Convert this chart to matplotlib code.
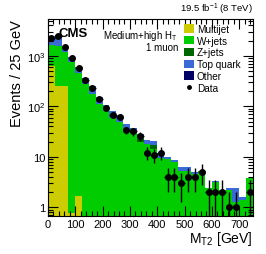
import matplotlib
matplotlib.use("Agg")
import matplotlib.pyplot as plt
import numpy as np
from matplotlib.patches import Patch
from matplotlib.lines import Line2D
from matplotlib.ticker import MultipleLocator, LogLocator, FixedLocator, FixedFormatter, NullFormatter

plt.rcParams['font.family'] = ['Liberation Sans', 'DejaVu Sans']
plt.rcParams['mathtext.fontset'] = 'custom'
plt.rcParams['mathtext.rm'] = 'Liberation Sans'
plt.rcParams['mathtext.it'] = 'Liberation Sans'

# M_T2 bins, 25 GeV wide
bin_edges = np.arange(0, 775, 25)

multijet = [640, 250, 250, 0.77, 1.65, 0, 0, 0, 0, 0, 0, 0, 0, 0, 0,
            0, 0, 0, 0, 0, 0, 0, 0, 0, 0, 0, 0, 0, 0, 0]
wjets = [1010, 1350, 920, 739, 453, 278, 178, 111, 80, 60, 48, 35, 30, 19.6, 18,
         14.5, 9.3, 9.0, 8.0, 5.2, 5.2, 4.6, 5.2, 2.4, 3.2, 2.2, 2.2, 1.3, 1.41, 3.8]
zjets = [0, 0, 0, 0, 0, 0, 0, 0, 0, 0, 0, 0, 0, 2.8, 0,
         3.0, 0, 0, 0, 0, 0, 0, 0, 0, 0, 0, 0, 0, 0, 0]
top = [770, 1000, 430, 220, 135, 87, 72, 44, 27, 21, 18, 9, 7, 5.5, 4,
       3, 2.7, 0.8, 0.8, 1.0, 1.0, 0.4, 0.1, 0.05, 0.05, 0.05, 0.25, 1.15, 0.17, 0.05]
other = [5, 5, 3, 2, 1, 0.5, 0.3, 0.2, 0.1, 0.1, 0.1, 0, 0, 0, 0,
         0, 0, 0, 0, 0, 0, 0, 0, 0, 0, 0, 0, 0, 0, 0]
data = [2290, 2440, 1510, 890, 565, 335, 227, 139, 93, 68, 62, 34, 32, 26, 12,
        11, 12, 4, 4, 3, 4, 4, 5, 2, 2, 2, 1, 1, 0, 2]

components = [("Multijet", multijet, "#cccc00"),
              ("W+jets", wjets, "#00cc00"),
              ("Z+jets", zjets, "#006600"),
              ("Top quark", top, "#3a6ad6"),
              ("Other", other, "#000066")]

fig = plt.figure(figsize=(2.66, 2.55), dpi=100)
ax = fig.add_axes([0.180, 0.150, 0.771, 0.772])

left = bin_edges[:-1]
width = np.diff(bin_edges)
bottom = np.zeros(len(left))
for name, vals, col in components:
    vals = np.array(vals, dtype=float)
    ax.bar(left, vals, width=width, bottom=bottom, align='edge', color=col,
           linewidth=0, zorder=1)
    bottom = bottom + vals

d = np.array(data, dtype=float)
centers = left + width / 2
m = d > 0
err = np.sqrt(d[m])
lo = np.minimum(err, d[m] - 1e-3)
ax.errorbar(centers[m], d[m], yerr=[lo, err], xerr=width[m] / 2, fmt='o',
            color='black', ms=4, lw=1.0, capsize=0, zorder=3)

ax.set_yscale('log')
ax.set_xlim(0, 750)
ax.set_ylim(0.68, 5400)

ax.xaxis.set_major_locator(MultipleLocator(100))
ax.xaxis.set_minor_locator(MultipleLocator(20))
ax.yaxis.set_major_locator(FixedLocator([1, 10, 100, 1000]))
ax.yaxis.set_major_formatter(FixedFormatter(["1", "10", "10$^{2}$", "10$^{3}$"]))
ax.yaxis.set_minor_locator(LogLocator(base=10, subs=np.arange(2, 10)))
ax.yaxis.set_minor_formatter(NullFormatter())
ax.tick_params(which='both', direction='in', top=True, right=True, labelsize=8,
               pad=2)
ax.tick_params(which='major', length=7, width=0.8)
ax.tick_params(which='minor', length=3.5, width=0.8)
for s in ax.spines.values():
    s.set_linewidth(0.8)

ax.set_xlabel("M$_{\\mathrm{T2}}$ [GeV]", fontsize=10, loc='right', labelpad=0)
ax.set_ylabel("Events / 25 GeV", fontsize=10.5, loc='top', labelpad=2)

fig.text(0.951, 0.935, "19.5 fb$^{-1}$ (8 TeV)", ha='right', va='bottom', fontsize=6.8)
ax.text(0.05, 0.96, "CMS", transform=ax.transAxes, fontsize=9.5, fontweight='bold',
        ha='left', va='top')
ax.text(0.635, 0.955, "Medium+high H$_{\\mathrm{T}}$", transform=ax.transAxes,
        fontsize=7, ha='right', va='top')
ax.text(0.635, 0.885, "1 muon", transform=ax.transAxes, fontsize=7,
        ha='right', va='top')

handles = [Patch(facecolor=c, edgecolor='none', label=n) for n, v, c in components]
handles.append(Line2D([], [], marker='o', color='black', ls='none', ms=2.5,
                      label='Data'))
ax.legend(handles=handles, loc='upper left', bbox_to_anchor=(0.655, 0.985),
          frameon=False, fontsize=7.2, handlelength=1.0, handleheight=0.9,
          handletextpad=0.25, labelspacing=0.18, borderpad=0.2, borderaxespad=0)

fig.savefig("out.png", dpi=100)
